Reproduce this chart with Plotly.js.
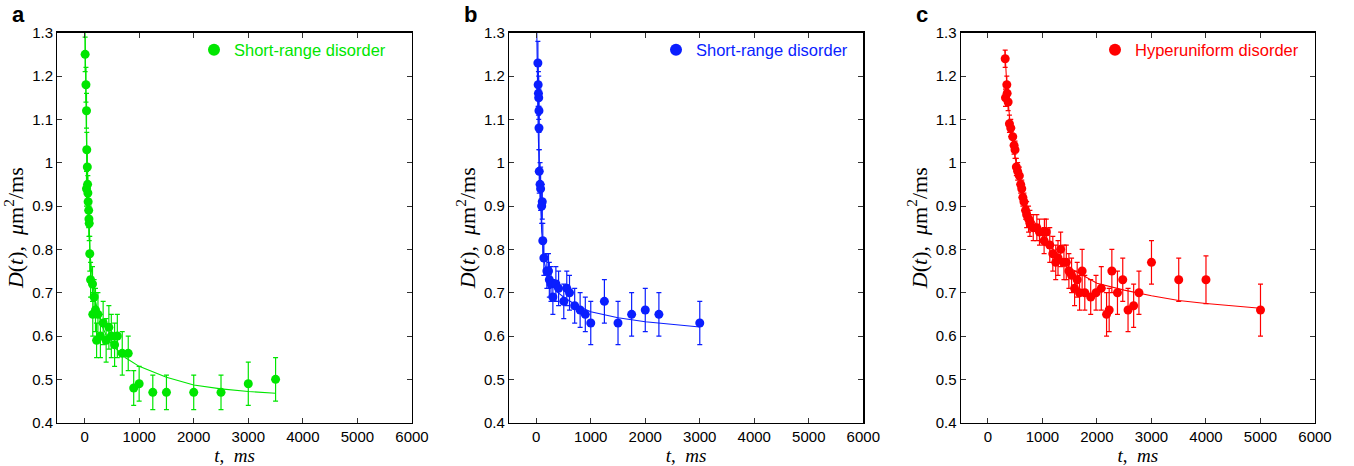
<!DOCTYPE html>
<html>
<head>
<meta charset="utf-8">
<script src="https://cdn.plot.ly/plotly-3.0.1.min.js"></script>
<style>html,body{margin:0;padding:0;background:#fff;}#chart{width:1354px;height:466px;}</style>
</head>
<body>
<div id="chart"></div>
<script>
// ---- Panel a: short-range disorder (green) ----
var tA = [10, 25, 35, 40, 50, 55, 35, 60, 65, 75, 80, 85, 95, 110, 145, 175, 150, 200, 245, 220, 290, 340, 395, 445, 490, 550, 600, 690, 800, 900, 1000, 1250, 1500, 2000, 2500, 3000, 3500];
var dA = [1.25, 1.18, 1.12, 1.03, 0.99, 0.95, 0.94, 0.93, 0.91, 0.89, 0.87, 0.86, 0.79, 0.73, 0.72, 0.69, 0.65, 0.66, 0.65, 0.59, 0.60, 0.63, 0.59, 0.62, 0.60, 0.58, 0.60, 0.56, 0.56, 0.48, 0.49, 0.47, 0.47, 0.47, 0.47, 0.49, 0.50];
var eA = [0.04, 0.04, 0.04, 0.04, 0.04, 0.04, 0.04, 0.04, 0.04, 0.04, 0.04, 0.04, 0.04, 0.04, 0.04, 0.04, 0.05, 0.05, 0.05, 0.04, 0.05, 0.05, 0.05, 0.05, 0.05, 0.05, 0.05, 0.05, 0.04, 0.04, 0.04, 0.04, 0.04, 0.04, 0.04, 0.05, 0.05];
var fitTA = [3, 10, 20, 35, 50, 75, 100, 150, 200, 300, 400, 500, 750, 1000, 1500, 2000, 2500, 3000, 3500];
var fitDA = [1.36, 1.27, 1.17, 1.05, 0.96, 0.86, 0.79, 0.72, 0.68, 0.63, 0.60, 0.58, 0.55, 0.53, 0.505, 0.487, 0.478, 0.472, 0.468];

// ---- Panel b: short-range disorder (blue) ----
var tB = [30, 35, 40, 45, 50, 50, 55, 70, 80, 110, 100, 120, 140, 195, 225, 240, 270, 305, 360, 410, 505, 560, 610, 705, 805, 900, 1000, 1250, 1500, 1750, 2000, 2250, 3000];
var dB = [1.23, 1.18, 1.16, 1.15, 1.12, 1.08, 0.98, 0.95, 0.94, 0.91, 0.90, 0.82, 0.78, 0.75, 0.75, 0.73, 0.72, 0.69, 0.72, 0.71, 0.68, 0.71, 0.70, 0.67, 0.66, 0.65, 0.63, 0.68, 0.63, 0.65, 0.66, 0.65, 0.63];
var eB = [0.05, 0.05, 0.05, 0.05, 0.05, 0.05, 0.05, 0.05, 0.05, 0.04, 0.04, 0.04, 0.04, 0.04, 0.04, 0.04, 0.04, 0.04, 0.04, 0.04, 0.04, 0.04, 0.04, 0.04, 0.04, 0.04, 0.05, 0.05, 0.05, 0.05, 0.05, 0.05, 0.05];
var fitTB = [3, 10, 20, 35, 50, 75, 100, 150, 200, 300, 400, 500, 750, 1000, 1500, 2000, 2500, 3000];
var fitDB = [1.36, 1.28, 1.19, 1.08, 1.0, 0.9, 0.84, 0.77, 0.74, 0.715, 0.70, 0.69, 0.67, 0.656, 0.642, 0.633, 0.627, 0.621];

// ---- Panel c: hyperuniform disorder (red) ----
var tC = [316, 346, 352, 322, 370, 394, 418, 455, 479, 497, 521, 545, 576, 600, 620, 640, 660, 690, 710, 745, 770, 831, 897, 945, 1036, 1070, 1030, 1134, 1190, 1334, 1243, 1285, 1394, 1437, 1485, 1534, 1589, 1637, 1728, 1680, 1777, 1885, 1982, 2079, 2176, 2224, 2273, 2376, 2473, 2570, 2673, 2770, 3000, 3500, 4000, 5000];
var dC = [1.24, 1.18, 1.16, 1.15, 1.14, 1.09, 1.08, 1.06, 1.04, 1.03, 0.99, 0.98, 0.97, 0.95, 0.94, 0.92, 0.91, 0.89, 0.88, 0.87, 0.86, 0.85, 0.85, 0.84, 0.84, 0.84, 0.82, 0.81, 0.79, 0.80, 0.77, 0.78, 0.77, 0.77, 0.75, 0.74, 0.71, 0.73, 0.75, 0.70, 0.70, 0.69, 0.70, 0.71, 0.65, 0.66, 0.75, 0.70, 0.73, 0.66, 0.67, 0.70, 0.77, 0.73, 0.73, 0.66];
var eC = [0.02, 0.02, 0.02, 0.02, 0.02, 0.02, 0.02, 0.02, 0.02, 0.02, 0.02, 0.02, 0.02, 0.02, 0.02, 0.02, 0.02, 0.02, 0.03, 0.03, 0.03, 0.03, 0.03, 0.03, 0.03, 0.03, 0.03, 0.04, 0.04, 0.04, 0.04, 0.04, 0.04, 0.04, 0.04, 0.04, 0.04, 0.04, 0.05, 0.04, 0.04, 0.04, 0.04, 0.05, 0.05, 0.05, 0.05, 0.05, 0.05, 0.05, 0.05, 0.05, 0.05, 0.05, 0.055, 0.06];
var fitTC = [310, 350, 400, 450, 500, 600, 700, 800, 1000, 1200, 1500, 2000, 2500, 3000, 3500, 4000, 5000];
var fitDC = [1.26, 1.17, 1.10, 1.05, 1.01, 0.95, 0.905, 0.875, 0.83, 0.80, 0.757, 0.722, 0.706, 0.693, 0.682, 0.675, 0.664];

var xTicks = [0, 1000, 2000, 3000, 4000, 5000, 6000];
var yTicks = [0.4, 0.5, 0.6, 0.7, 0.8, 0.9, 1, 1.1, 1.2, 1.3];
var legendNames = ['Short-range disorder', 'Short-range disorder', 'Hyperuniform disorder'];
var panelLabels = ['a', 'b', 'c'];

var colors = ['#00e600', '#0a1eff', '#ff0000'];
var sets = [[tA, dA, eA, fitTA, fitDA], [tB, dB, eB, fitTB, fitDB], [tC, dC, eC, fitTC, fitDC]];
var suffix = ['', '2', '3'];
var W = 1354, H = 466;
var xDom = [[57.3, 412], [509, 863.3], [960.7, 1315]];
var yDom = [1 - 422.7 / H, 1 - 32.7 / H];
var legLeft = [194, 656, 1095];

var traces = [];
var layout = {
  width: W, height: H,
  margin: {l: 0, r: 0, t: 0, b: 0},
  paper_bgcolor: '#fff', plot_bgcolor: '#fff',
  font: {family: 'Liberation Sans, Arial, sans-serif', size: 15, color: '#000'},
  annotations: [],
  showlegend: true
};

var serif = 'Liberation Serif, Times New Roman, serif';
for (var i = 0; i < 3; i++) {
  var s = sets[i];
  var xa = 'x' + suffix[i], ya = 'y' + suffix[i];
  var lg = 'legend' + suffix[i];
  traces.push({
    x: s[3], y: s[4], xaxis: xa, yaxis: ya, mode: 'lines', type: 'scatter',
    line: {color: colors[i], width: 1.1}, showlegend: false, hoverinfo: 'skip', cliponaxis: true
  });
  traces.push({
    x: s[0], y: s[1], xaxis: xa, yaxis: ya, mode: 'markers', type: 'scatter',
    name: legendNames[i], legend: lg,
    marker: {color: colors[i], size: 9, line: {width: 0}},
    error_y: {type: 'data', array: s[2], visible: true, color: colors[i], thickness: 1.2, width: 2.5},
    cliponaxis: true
  });
  layout['xaxis' + suffix[i]] = {
    domain: [xDom[i][0] / W, xDom[i][1] / W], range: [-500, 6000],
    tickvals: xTicks, ticktext: xTicks.map(String), ticks: 'inside', ticklen: 5, tickcolor: '#333',
    showline: true, linecolor: '#000', linewidth: 1.2, mirror: 'ticks', showgrid: false, zeroline: false,
    tickfont: {size: 15, family: 'Liberation Sans, Arial, sans-serif'},
    anchor: ya,
    title: {text: '<i>t</i>,&nbsp;&nbsp;<i>ms</i>', font: {family: serif, size: 19}, standoff: 3}
  };
  layout['yaxis' + suffix[i]] = {
    domain: yDom, range: [0.4, 1.3],
    tickvals: yTicks, ticktext: yTicks.map(function (v) { return String(v); }), ticks: 'inside', ticklen: 5, tickcolor: '#333',
    showline: true, linecolor: '#000', linewidth: 1.2, mirror: 'ticks', showgrid: false, zeroline: false,
    tickfont: {size: 15, family: 'Liberation Sans, Arial, sans-serif'},
    anchor: xa,
    title: {text: '<i>D</i>(<i>t</i>),&nbsp;&nbsp;<i>μ</i>m<sup>2</sup>/ms', font: {family: serif, size: 22}, standoff: 2}
  };
  layout[lg] = {
    x: legLeft[i] / W, y: 1 - 50 / H, xanchor: 'left', yanchor: 'middle',
    bgcolor: 'rgba(0,0,0,0)', borderwidth: 0, itemsizing: 'constant',
    font: {size: 16.5, color: colors[i], family: 'Liberation Sans, Arial, sans-serif'},
    itemwidth: 30, tracegroupgap: 0
  };
  layout.annotations.push({
    text: '<b>' + panelLabels[i] + '</b>', xref: 'paper', yref: 'paper',
    x: (xDom[i][0] - 47) / W, y: 1 - 0 / H, xanchor: 'left', yanchor: 'top', showarrow: false,
    font: {size: 22, family: 'Liberation Sans, Arial, sans-serif', color: '#000'}
  });
}

Plotly.newPlot('chart', traces, layout, {displayModeBar: false, staticPlot: true});
</script>
</body>
</html>
